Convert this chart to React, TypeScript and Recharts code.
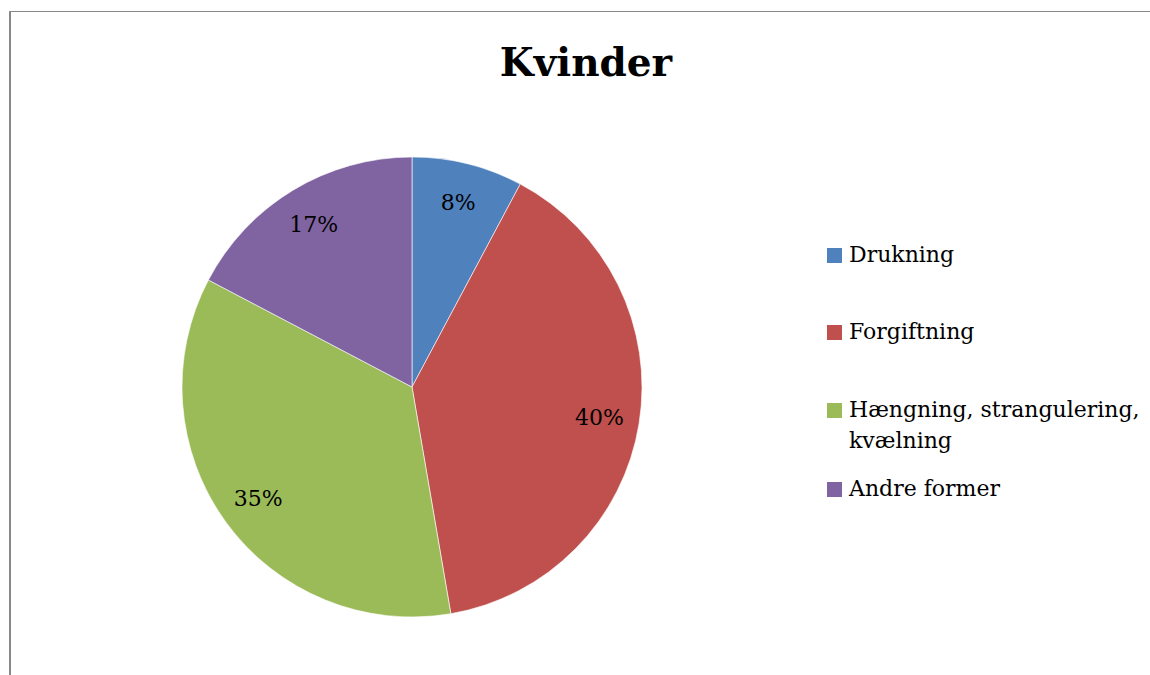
import { PieChart, Pie, Cell, Legend } from "recharts";

const categories = ["Drukning", "Forgiftning", "Hængning, strangulering, kvælning", "Andre former"];
const legendLines = [["Drukning"], ["Forgiftning"], ["Hængning, strangulering,", "kvælning"], ["Andre former"]];
const shares = [7.8, 39.5, 35.4, 17.3];
const colors = ["#4F81BD", "#C0504D", "#9BBB59", "#8064A2"];

const data = categories.map((name, i) => ({ name, value: shares[i] }));

const FONT = "'DejaVu Serif', serif";
const RADIAN = Math.PI / 180;

const renderLabel = ({ cx, cy, midAngle, percent }: any) => {
  const r = 190;
  const x = cx + r * Math.cos(-midAngle * RADIAN);
  const y = cy + r * Math.sin(-midAngle * RADIAN);
  return (
    <text x={x} y={y} fill="#000" fontSize={22} fontFamily={FONT} textAnchor="middle" dominantBaseline="central">
      {`${Math.round(percent * 100)}%`}
    </text>
  );
};

const LegendContent = () => {
  const gaps = [0, 46, 47, 17];
  return (
    <div style={{ fontFamily: FONT, fontSize: 22, lineHeight: "31px", color: "#000" }}>
      {legendLines.map((lines, i) => (
        <div key={i} style={{ marginTop: gaps[i], position: "relative", paddingLeft: 22 }}>
          <span
            style={{
              position: "absolute",
              left: 0,
              top: 9,
              width: 15,
              height: 15,
              background: colors[i],
            }}
          />
          {lines.map((l) => (
            <div key={l} style={{ whiteSpace: "nowrap" }}>{l}</div>
          ))}
        </div>
      ))}
    </div>
  );
};

export default function App() {
  return (
    <div style={{ position: "absolute", left: 0, top: 0, width: 1150, height: 675, background: "#fff", overflow: "hidden" }}>
      <div
        style={{
          position: "absolute",
          left: 9,
          top: 11,
          width: 1200,
          height: 700,
          borderLeft: "2px solid #888",
          borderTop: "1px solid #888",
        }}
      />
      <div
        style={{
          position: "absolute",
          left: 0,
          top: 37,
          width: 1172,
          textAlign: "center",
          fontFamily: FONT,
          fontWeight: "bold",
          fontSize: 39,
          lineHeight: "50px",
        }}
      >
        Kvinder
      </div>
      <div style={{ position: "absolute", left: 0, top: 0 }}>
        <PieChart width={1150} height={675} margin={{ top: 0, right: 0, bottom: 0, left: 0 }}>
          <Pie
            data={data}
            dataKey="value"
            nameKey="name"
            cx={412}
            cy={387}
            outerRadius={230}
            startAngle={90}
            endAngle={-270}
            stroke="#fff"
            strokeWidth={0.6}
            label={renderLabel}
            labelLine={false}
            isAnimationActive={false}
          >
            {data.map((d, i) => (
              <Cell key={d.name} fill={colors[i]} />
            ))}
          </Pie>
          <Legend
            content={<LegendContent />}
            wrapperStyle={{ position: "absolute", left: 827, top: 239, width: 320 }}
          />
        </PieChart>
      </div>
    </div>
  );
}
